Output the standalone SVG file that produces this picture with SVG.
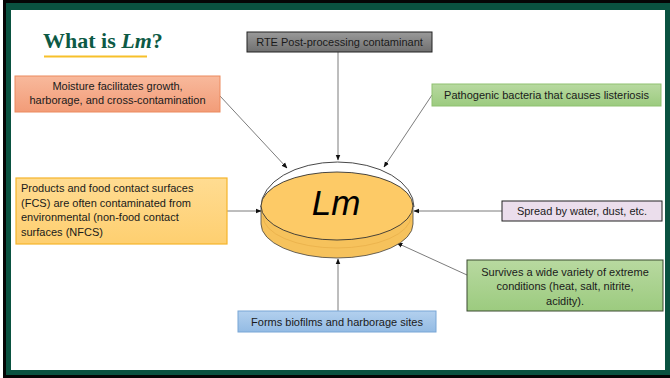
<svg xmlns="http://www.w3.org/2000/svg" width="670" height="378" viewBox="0 0 670 378">
<defs>
<style>
.t{font-family:"Liberation Sans",Arial,sans-serif;font-size:11px;fill:#1a1a1a}
.c{text-anchor:middle}
.con{stroke:#5a5a5a;stroke-width:0.8;fill:none;marker-end:url(#ah)}
</style>
<marker id="ah" viewBox="0 0 10 10" refX="9" refY="5" markerWidth="6" markerHeight="6" markerUnits="userSpaceOnUse" orient="auto">
<path d="M0,1 L10,5 L0,9 Z" fill="#111"/>
</marker>
<linearGradient id="gGray" x1="0" y1="0" x2="0" y2="1"><stop offset="0" stop-color="#9a9a9a"/><stop offset="1" stop-color="#707070"/></linearGradient>
<linearGradient id="gSal" x1="0" y1="0" x2="0" y2="1"><stop offset="0" stop-color="#f8b99c"/><stop offset="1" stop-color="#f29c78"/></linearGradient>
<linearGradient id="gGrn" x1="0" y1="0" x2="0" y2="1"><stop offset="0" stop-color="#b8d9a0"/><stop offset="1" stop-color="#9ccb7f"/></linearGradient>
<linearGradient id="gOr" x1="0" y1="0" x2="0" y2="1"><stop offset="0" stop-color="#ffdc92"/><stop offset="1" stop-color="#fecf70"/></linearGradient>
<linearGradient id="gBlu" x1="0" y1="0" x2="0" y2="1"><stop offset="0" stop-color="#b3d0ee"/><stop offset="1" stop-color="#93bbe4"/></linearGradient>
</defs>
<rect x="0" y="0" width="670" height="378" fill="#ffffff"/>
<rect x="3" y="0" width="667" height="378" fill="#050505"/>
<rect x="6" y="3" width="664" height="372" fill="#0a5240"/>
<rect x="11" y="10" width="654" height="360" fill="#ffffff"/>

<g id="title">
<text x="43" y="48" font-family="'Liberation Serif',serif" font-weight="bold" font-size="22" fill="#0d5a45">What is <tspan font-style="italic">Lm</tspan>?</text>
<rect x="44" y="55.5" width="103" height="2" fill="#f7c02a"/>
</g>

<g id="connectors">
<line class="con" x1="220" y1="96" x2="287" y2="168"/>
<line class="con" x1="338" y1="52" x2="338" y2="160"/>
<line class="con" x1="432" y1="95" x2="384" y2="167"/>
<line class="con" x1="227" y1="211" x2="261" y2="211"/>
<line class="con" x1="502" y1="211" x2="414" y2="211"/>
<line class="con" x1="467" y1="275" x2="397" y2="243"/>
<line class="con" x1="338" y1="311" x2="338" y2="259"/>
</g>

<g id="lm">
<path d="M261,207 A76.5,45 0 0 1 414,207" fill="none" stroke="#333" stroke-width="0.9"/>
<path d="M261,206 L261,224 A76,34 0 0 0 413,224 L413,206 Z" fill="#f6c25c" stroke="#444" stroke-width="0.8"/>
<path d="M263,216 A74,32 0 0 0 411,216" fill="none" stroke="#e6ad48" stroke-width="0.7"/>
<ellipse cx="337" cy="206" rx="76" ry="34" fill="#fdca66" stroke="#333" stroke-width="0.9"/>
<text x="336" y="215" font-family="'Liberation Sans',Arial,sans-serif" font-style="italic" font-size="35" text-anchor="middle" fill="#000">Lm</text>
</g>

<g id="rte">
<rect x="247" y="32" width="185" height="20" fill="url(#gGray)" stroke="#222" stroke-width="1"/>
<text class="t c" x="339.5" y="46">RTE Post-processing contaminant</text>
</g>

<g id="moisture">
<rect x="15" y="76" width="205" height="36" fill="url(#gSal)" stroke="#ec8a5e" stroke-width="1"/>
<text class="t c" x="117.5" y="90">Moisture facilitates growth,</text>
<text class="t c" x="117.5" y="104">harborage, and cross-contamination</text>
</g>

<g id="pathogenic">
<rect x="432" y="84" width="229" height="22" fill="url(#gGrn)" stroke="#8fc170" stroke-width="1"/>
<text class="t c" x="546.5" y="99">Pathogenic bacteria that causes listeriosis</text>
</g>

<g id="products">
<rect x="16" y="178" width="211" height="66" fill="url(#gOr)" stroke="#f5b42a" stroke-width="1.2"/>
<text class="t" x="21" y="192">Products and food contact surfaces</text>
<text class="t" x="21" y="207">(FCS) are often contaminated from</text>
<text class="t" x="21" y="221">environmental  (non-food contact</text>
<text class="t" x="21" y="236">surfaces (NFCS)</text>
</g>

<g id="spread">
<rect x="502" y="201" width="160" height="20" fill="#ebdeec" stroke="#222" stroke-width="1"/>
<text class="t c" x="582" y="215">Spread by water, dust, etc.</text>
</g>

<g id="survives">
<rect x="467" y="260" width="196" height="51" fill="url(#gGrn)" stroke="#3a4a30" stroke-width="1"/>
<text class="t c" x="565" y="276">Survives a wide variety of extreme</text>
<text class="t c" x="565" y="290">conditions (heat, salt, nitrite,</text>
<text class="t c" x="565" y="305">acidity).</text>
</g>

<g id="forms">
<rect x="238" y="311" width="198" height="21" fill="url(#gBlu)" stroke="#78a6d6" stroke-width="1"/>
<text class="t c" x="337" y="325.5">Forms biofilms and harborage sites</text>
</g>
</svg>
